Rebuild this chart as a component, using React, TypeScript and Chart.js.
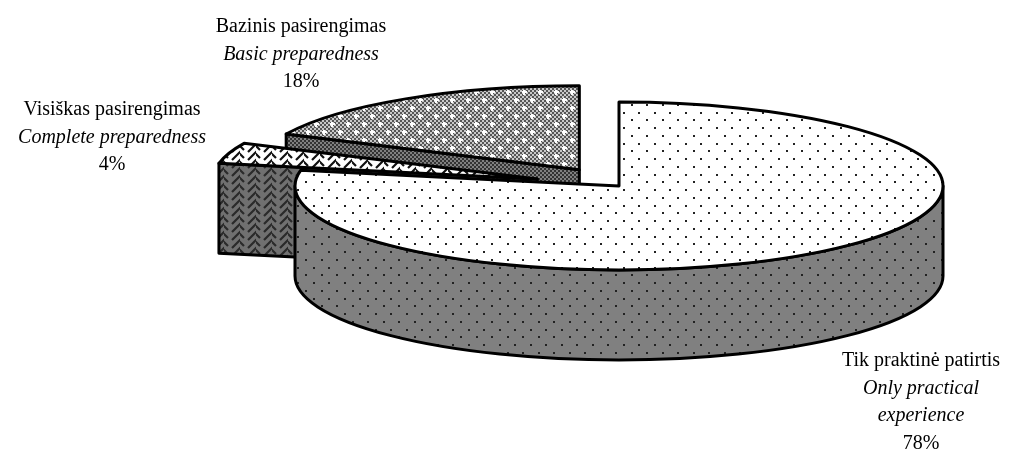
import React, { useEffect, useRef } from "react";
import { Chart, registerables } from "chart.js";

Chart.register(...registerables);

const categories = ["Tik praktinė patirtis", "Visiškas pasirengimas", "Bazinis pasirengimas"];
const translations = [["Only practical", "experience"], ["Complete preparedness"], ["Basic preparedness"]];
const shares = [78, 4, 18];
const explode = [0, 86, 74];

const SQUASH = 84 / 324;
const DEPTH = 90;
const FONT = '"Liberation Serif"';
const labelAnchors = [
  { x: 921, y: 366 },
  { x: 112, y: 115 },
  { x: 301, y: 32 },
];

function tile(w: number, h: number, draw: (c: CanvasRenderingContext2D) => void) {
  const cv = document.createElement("canvas");
  cv.width = w;
  cv.height = h;
  const c = cv.getContext("2d")!;
  draw(c);
  return cv;
}

function dots(base: string) {
  return tile(31, 31, (c) => {
    c.fillStyle = base;
    c.fillRect(0, 0, 31, 31);
    c.fillStyle = "#222";
    [[3, 3], [18, 3], [11, 11], [26, 11], [3, 19], [18, 19], [11, 26], [26, 26]].forEach(([x, y]) => {
      c.fillRect(x, y, 2, 2);
    });
  });
}

function checker(a: string, b: string, plus: string | null) {
  return tile(32, 16, (c) => {
    for (let y = 0; y < 16; y += 2) {
      for (let x = 0; x < 32; x += 2) {
        c.fillStyle = (x + y) % 4 === 0 ? a : b;
        c.fillRect(x, y, 2, 2);
      }
    }
    if (plus) {
      c.fillStyle = plus;
      [[4, 4], [20, 4], [12, 12], [28, 12]].forEach(([x, y]) => {
        c.fillRect(x - 2, y - 1, 5, 2);
        c.fillRect(x - 1, y - 2, 2, 5);
      });
    }
  });
}

function weave(base: string, ink: string) {
  return tile(16, 8, (c) => {
    c.fillStyle = base;
    c.fillRect(0, 0, 16, 8);
    c.strokeStyle = ink;
    c.lineWidth = 2.2;
    for (let y = -8; y <= 8; y += 8) {
      c.beginPath();
      c.moveTo(-1, y + 1);
      c.lineTo(4, y + 6);
      c.moveTo(8, y + 8);
      c.lineTo(14, y + 2);
      c.lineTo(17, y - 1);
      c.stroke();
    }
  });
}

const pie3d = {
  id: "pie3d",
  beforeDatasetDraw() {
    return false;
  },
  afterDatasetsDraw(chart: any) {
    const ctx: CanvasRenderingContext2D = chart.ctx;
    const arcs = chart.getDatasetMeta(0).data;
    const tops = [dots("#ffffff"), weave("#ffffff", "#111111"), checker("#555555", "#c8c8c8", "#ffffff")];
    const sides = [dots("#808080"), weave("#707070", "#2a2a2a"), checker("#333333", "#808080", null)];
    const fill = (cv: HTMLCanvasElement) => ctx.createPattern(cv, "repeat")!;
    ctx.save();
    ctx.lineWidth = 3;
    ctx.lineJoin = "round";
    ctx.strokeStyle = "#000";

    [2, 1, 0].forEach((i) => {
      const a = arcs[i];
      const { x, y, startAngle, endAngle, outerRadius: R } = a.getProps(["x", "y", "startAngle", "endAngle", "outerRadius"]);
      const mid = (startAngle + endAngle) / 2;
      const cx = x + explode[i] * Math.cos(mid);
      const cy = y + explode[i] * Math.sin(mid) * SQUASH;
      const rY = R * SQUASH;
      const px = (t: number) => cx + R * Math.cos(t);
      const py = (t: number) => cy + rY * Math.sin(t);

      ctx.fillStyle = fill(sides[i]);
      // cut face at the start edge, seen from the front
      if (i > 0) {
        ctx.beginPath();
        ctx.moveTo(cx, cy);
        ctx.lineTo(px(startAngle), py(startAngle));
        ctx.lineTo(px(startAngle), py(startAngle) + DEPTH);
        ctx.lineTo(cx, cy + DEPTH);
        ctx.closePath();
        ctx.fill();
        ctx.stroke();
      }
      // outer wall, front half only
      if (i === 0) {
        ctx.beginPath();
        ctx.ellipse(cx, cy, R, rY, 0, 0, Math.PI);
        ctx.ellipse(cx, cy + DEPTH, R, rY, 0, Math.PI, 0, true);
        ctx.closePath();
        ctx.fill();
        ctx.stroke();
      }
      // top face
      ctx.fillStyle = fill(tops[i]);
      ctx.beginPath();
      ctx.moveTo(cx, cy);
      ctx.ellipse(cx, cy, R, rY, 0, startAngle, endAngle);
      ctx.closePath();
      ctx.fill();
      ctx.stroke();
    });

    ctx.fillStyle = "#000";
    ctx.textAlign = "center";
    ctx.textBaseline = "alphabetic";
    const total = shares.reduce((s, v) => s + v, 0);
    categories.forEach((name, i) => {
      const { x, y } = labelAnchors[i];
      let yy = y;
      ctx.font = `20px ${FONT}`;
      ctx.fillText(name, x, yy);
      ctx.font = `italic 20px ${FONT}`;
      translations[i].forEach((t) => {
        yy += 27.5;
        ctx.fillText(t, x, yy);
      });
      yy += 27.5;
      ctx.font = `20px ${FONT}`;
      ctx.fillText(`${Math.round((shares[i] / total) * 100)}%`, x, yy);
    });
    ctx.restore();
  },
};

export default function App() {
  const ref = useRef<HTMLCanvasElement>(null);
  useEffect(() => {
    const chart = new Chart(ref.current!, {
      type: "pie",
      data: {
        labels: categories,
        datasets: [{ data: shares, backgroundColor: "#fff", borderColor: "#000", offset: explode }],
      },
      options: {
        animation: false,
        responsive: false,
        radius: 324,
        layout: { padding: { left: 228, bottom: 78 } },
        plugins: { legend: { display: false }, tooltip: { enabled: false } },
      } as any,
      plugins: [pie3d as any],
    });
    return () => chart.destroy();
  }, []);
  return (
    <canvas
      ref={ref}
      width={1010}
      height={450}
      style={{ position: "absolute", left: 0, top: 0, display: "block" }}
    />
  );
}
